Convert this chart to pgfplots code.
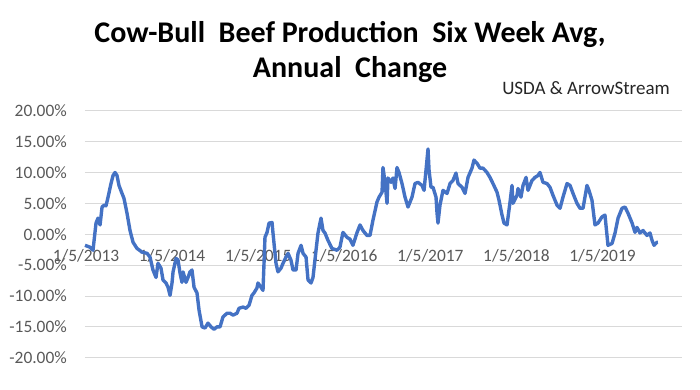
\documentclass[border=0pt]{standalone}
\usepackage{pgfplots}
\pgfplotsset{compat=1.18}
\usepackage{fontspec}
\setmainfont{Carlito}
\definecolor{linecol}{HTML}{4472C4}
\definecolor{gridcol}{HTML}{D9D9D9}
\definecolor{tickcol}{HTML}{595959}
\begin{document}
\begin{tikzpicture}
\useasboundingbox (-85pt,-31.3pt) rectangle (615pt,357.7pt);
\begin{axis}[
  at={(0pt,0pt)}, anchor=south west,
  scale only axis, width=597pt, height=247pt,
  xmin=2012.988, xmax=2019.924,
  ymin=-20, ymax=20,
  axis x line*=middle,
  axis y line*=left,
  x axis line style={draw=gridcol, line width=0.8pt, -},
  y axis line style={draw=none},
  xtick={2013,2014,2015,2016,2017,2018,2019},
  xticklabels={1/5/2013,1/5/2014,1/5/2015,1/5/2016,1/5/2017,1/5/2018,1/5/2019},
  ytick={-20,-15,-10,-5,0,5,10,15,20},
  yticklabels={-20.00\%,-15.00\%,-10.00\%,-5.00\%,0.00\%,5.00\%,10.00\%,15.00\%,20.00\%},
  major tick length=0pt,
  ymajorgrids,
  major grid style={draw=gridcol, line width=0.8pt},
  tick label style={font=\fontsize{17.4}{19}\selectfont, text=tickcol},
  yticklabel style={anchor=east, inner sep=0pt, xshift=-18pt},
  xticklabel style={anchor=north, inner sep=0pt, yshift=-15pt},
  clip=false,
]
\addplot[linecol, line width=3.4pt, line join=round] coordinates {
(2012.988,-1.8)(2013.046,-2.1)(2013.081,-2.6)(2013.116,1.8)(2013.139,2.6)(2013.163,1.5)
(2013.186,4.4)(2013.209,4.7)(2013.232,4.6)(2013.256,6.0)(2013.290,8.2)(2013.314,9.5)
(2013.337,10.0)(2013.360,9.5)(2013.383,7.9)(2013.418,6.6)(2013.441,5.8)(2013.476,3.4)
(2013.511,0.6)(2013.546,-1.3)(2013.592,-2.3)(2013.651,-2.9)(2013.709,-3.1)(2013.743,-3.7)
(2013.778,-5.8)(2013.813,-7.0)(2013.836,-4.7)(2013.871,-5.5)(2013.894,-7.4)(2013.929,-7.9)
(2013.953,-8.6)(2013.976,-9.9)(2013.999,-7.9)(2014.011,-6.1)(2014.046,-3.9)(2014.069,-4.2)
(2014.092,-6.3)(2014.115,-7.8)(2014.127,-6.1)(2014.162,-7.8)(2014.185,-7.0)(2014.208,-6.1)
(2014.231,-5.8)(2014.255,-8.6)(2014.289,-9.5)(2014.313,-12.3)(2014.348,-15.0)(2014.382,-15.2)
(2014.417,-14.4)(2014.452,-15.0)(2014.487,-15.4)(2014.522,-15.0)(2014.557,-15.0)(2014.591,-13.4)
(2014.638,-12.8)(2014.673,-12.8)(2014.708,-13.1)(2014.754,-12.8)(2014.777,-12.0)(2014.824,-11.8)
(2014.859,-12.0)(2014.894,-11.5)(2014.928,-9.9)(2014.952,-9.5)(2014.986,-8.7)(2014.998,-7.9)
(2015.033,-8.6)(2015.056,-9.1)(2015.079,-0.5)(2015.103,0.3)(2015.126,1.8)(2015.161,1.9)
(2015.172,0.2)(2015.207,-4.7)(2015.230,-6.1)(2015.265,-5.5)(2015.289,-4.7)(2015.323,-3.7)
(2015.347,-3.1)(2015.381,-4.2)(2015.405,-5.8)(2015.440,-5.8)(2015.463,-3.1)(2015.498,-1.8)
(2015.521,-3.1)(2015.556,-3.7)(2015.579,-7.4)(2015.614,-7.9)(2015.637,-7.0)(2015.672,-2.6)
(2015.695,0.2)(2015.730,2.6)(2015.753,0.6)(2015.776,0.2)(2015.811,-1.0)(2015.857,-2.3)
(2015.916,-2.6)(2015.950,-2.1)(2015.985,0.3)(2016.031,-0.5)(2016.066,-0.8)(2016.101,-1.8)
(2016.147,0.2)(2016.183,1.5)(2016.218,0.6)(2016.264,-0.2)(2016.299,-0.2)(2016.334,2.3)
(2016.380,5.2)(2016.404,6.0)(2016.439,6.8)(2016.450,10.8)(2016.474,8.4)(2016.497,5.0)
(2016.508,9.1)(2016.543,8.4)(2016.566,9.1)(2016.590,7.4)(2016.613,10.8)(2016.636,10.0)
(2016.671,8.2)(2016.706,6.0)(2016.741,4.4)(2016.787,6.0)(2016.822,8.2)(2016.857,8.4)
(2016.903,7.9)(2016.927,7.1)(2016.950,10.4)(2016.973,13.8)(2016.985,10.4)(2017.008,7.6)
(2017.031,7.6)(2017.066,6.0)(2017.078,3.4)(2017.089,1.8)(2017.112,4.7)(2017.147,7.1)
(2017.194,6.6)(2017.229,8.2)(2017.263,8.7)(2017.298,9.9)(2017.322,8.2)(2017.368,7.6)
(2017.403,6.6)(2017.438,9.2)(2017.484,10.7)(2017.507,12.0)(2017.542,11.5)(2017.577,10.7)
(2017.612,10.7)(2017.658,10.0)(2017.693,9.2)(2017.728,8.2)(2017.775,6.8)(2017.798,5.5)
(2017.833,3.1)(2017.856,1.8)(2017.891,1.5)(2017.926,5.2)(2017.949,7.9)(2017.960,5.0)
(2018.007,6.3)(2018.019,7.4)(2018.053,6.0)(2018.077,7.9)(2018.112,9.2)(2018.135,7.1)
(2018.181,8.7)(2018.216,9.2)(2018.251,9.5)(2018.274,10.0)(2018.309,8.4)(2018.356,8.2)
(2018.390,7.6)(2018.425,6.3)(2018.472,4.7)(2018.507,4.2)(2018.541,6.0)(2018.588,8.2)
(2018.623,7.9)(2018.658,6.6)(2018.704,5.0)(2018.739,4.2)(2018.774,4.2)(2018.820,7.9)
(2018.843,7.1)(2018.878,5.5)(2018.913,1.5)(2018.948,1.8)(2018.994,2.8)(2019.029,3.1)
(2019.064,-1.8)(2019.111,-1.5)(2019.146,0.2)(2019.181,2.6)(2019.227,4.2)(2019.262,4.4)
(2019.297,3.4)(2019.344,1.8)(2019.378,0.3)(2019.401,1.1)(2019.436,0.2)(2019.471,0.6)
(2019.517,-0.2)(2019.552,0.2)(2019.576,-1.0)(2019.599,-1.8)(2019.634,-1.3)(2019.645,-1.3)
};
\end{axis}
\node[anchor=base, inner sep=0pt, font=\fontsize{30}{36}\selectfont\bfseries] at (265pt,314.7pt) {Cow-Bull\ \ Beef Production\ \ Six Week Avg,};
\node[anchor=base, inner sep=0pt, font=\fontsize{30}{36}\selectfont\bfseries] at (265pt,280.7pt) {Annual\ \ Change};
\node[anchor=base east, inner sep=0pt, font=\fontsize{19}{22}\selectfont, text=black!85] at (585pt,263.7pt) {USDA \& ArrowStream};
\end{tikzpicture}
\end{document}
